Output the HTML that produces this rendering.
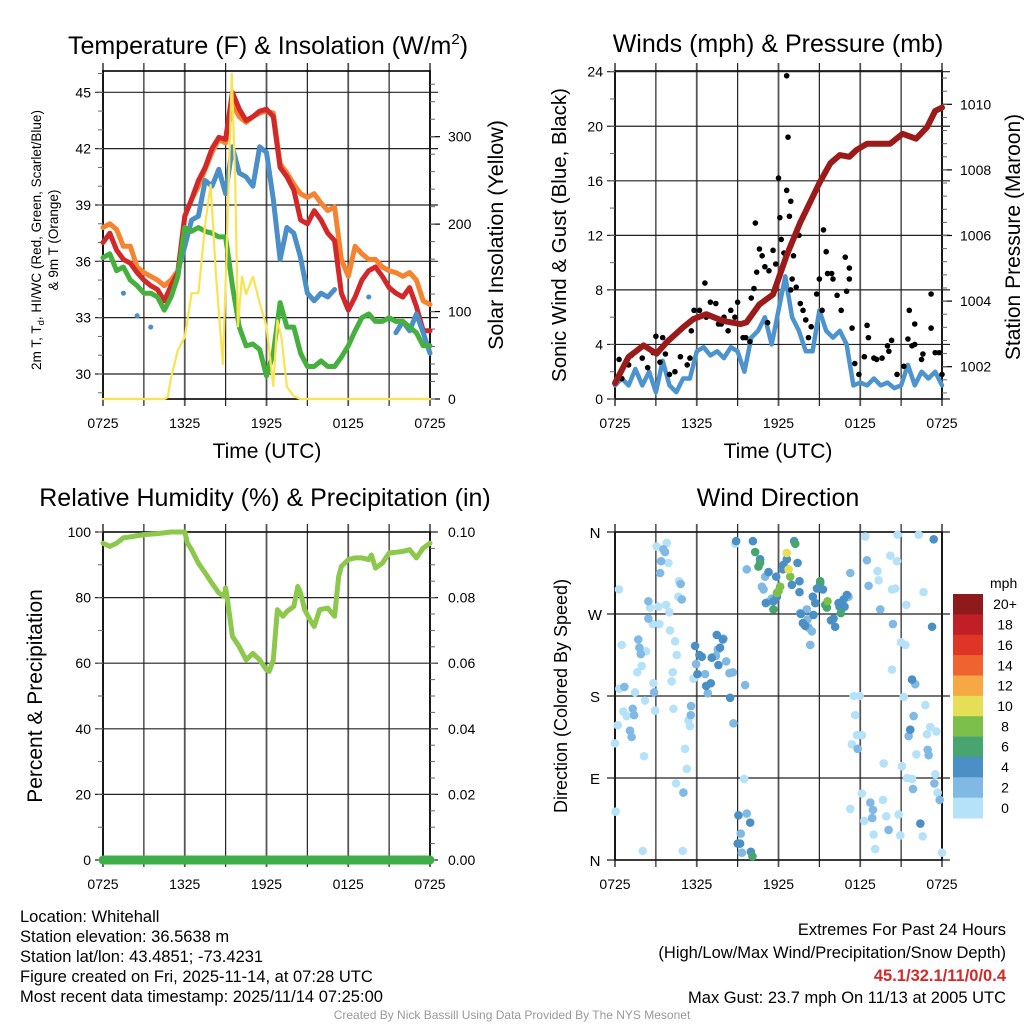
<!DOCTYPE html>
<html><head><meta charset="utf-8"><style>
html,body{margin:0;padding:0;background:#fff;}
svg{display:block;font-family:"Liberation Sans",sans-serif;}
</style></head><body>
<svg id="chart" xmlns="http://www.w3.org/2000/svg" width="1024" height="1024" viewBox="0 0 1024 1024">
<rect x="0" y="0" width="1024" height="1024" fill="#fff"/>
<text x="268" y="54" font-size="25" text-anchor="middle">Temperature (F) &amp; Insolation (W/m<tspan font-size="15" dy="-10">2</tspan><tspan dy="10">)</tspan></text>
<text x="778" y="52" font-size="25" text-anchor="middle">Winds (mph) &amp; Pressure (mb)</text>
<text x="265" y="506" font-size="25" text-anchor="middle">Relative Humidity (%) &amp; Precipitation (in)</text>
<text x="778" y="506" font-size="25" text-anchor="middle">Wind Direction</text>

<text transform="translate(41,240) rotate(-90)" font-size="13.5" text-anchor="middle">2m T, T<tspan font-size="9.5" dy="3">d</tspan><tspan dy="-3">, HI/WC (Red, Green, Scarlet/Blue)</tspan></text>
<text transform="translate(58,240) rotate(-90)" font-size="13.5" text-anchor="middle">&amp; 9m T (Orange)</text>
<text transform="translate(503,235) rotate(-90)" font-size="21.5" text-anchor="middle">Solar Insolation (Yellow)</text>
<text x="267" y="458" font-size="21" text-anchor="middle">Time (UTC)</text>
<text transform="translate(566,235) rotate(-90)" font-size="20.5" text-anchor="middle">Sonic Wind &amp; Gust (Blue, Black)</text>
<text transform="translate(1020,237) rotate(-90)" font-size="21" text-anchor="middle">Station Pressure (Maroon)</text>
<text x="778" y="458" font-size="21" text-anchor="middle">Time (UTC)</text>
<text transform="translate(42,696) rotate(-90)" font-size="21" text-anchor="middle">Percent &amp; Precipitation</text>
<text transform="translate(567,696) rotate(-90)" font-size="18" text-anchor="middle">Direction (Colored By Speed)</text>

<g font-size="16.5">
<text x="20" y="922">Location: Whitehall</text>
<text x="20" y="942">Station elevation: 36.5638 m</text>
<text x="20" y="962">Station lat/lon: 43.4851; -73.4231</text>
<text x="20" y="982">Figure created on Fri, 2025-11-14, at 07:28 UTC</text>
<text x="20" y="1002">Most recent data timestamp: 2025/11/14 07:25:00</text>
</g>
<g font-size="16.5" text-anchor="end">
<text x="1006" y="935">Extremes For Past 24 Hours</text>
<text x="1006" y="958">(High/Low/Max Wind/Precipitation/Snow Depth)</text>
<text x="1006" y="981" font-weight="bold" fill="#d42a2a">45.1/32.1/11/0/0.4</text>
<text x="1006" y="1003">Max Gust: 23.7 mph On 11/13 at 2005 UTC</text>
</g>
<text x="512" y="1019" font-size="12" fill="#999" text-anchor="middle">Created By Nick Bassill Using Data Provided By The NYS Mesonet</text>
<g id="layers"></g>
</svg>
<script>
// ---------- Data ----------
const tempTime = [0,0.5,1,1.5,2,2.5,3,3.5,4,4.5,5,5.5,6,6.5,7,7.5,8,8.5,9,9.5,10,10.5,11,11.5,12,12.5,13,13.5,14,14.5,15,15.5,16,16.5,17,17.5,18,18.5,19,19.5,20,20.5,21,21.5,22,22.5,23,23.5,24];
const tempRed = [37.0,37.5,36.6,36.1,35.9,35.4,35.0,34.7,34.5,33.9,34.7,35.4,38.4,39.3,40.3,41.0,42.0,42.6,42.5,45.0,44.1,43.5,43.7,44.0,44.1,43.7,41.0,40.5,39.8,38.2,38.0,38.7,38.2,37.5,37.1,34.3,33.4,34.1,35.0,35.5,35.7,35.2,34.6,34.3,34.1,34.6,33.6,32.3,32.3];
const tempOrange = [37.8,38.0,37.7,36.8,36.8,35.7,35.4,35.2,35.0,34.7,35.0,35.5,38.4,39.3,40.0,40.9,41.8,42.5,42.3,44.4,43.7,43.4,43.7,43.9,44.0,43.9,41.2,40.7,40.1,39.6,39.4,39.6,39.1,38.7,38.9,36.1,35.2,36.8,36.4,36.1,36.1,35.7,35.5,35.4,35.2,35.4,35.0,33.9,33.7];
const tempGreen = [36.2,36.4,35.5,35.7,35.0,34.7,34.3,34.3,34.1,33.4,34.1,35.2,37.8,37.6,37.8,37.6,37.5,37.3,37.3,34.7,32.5,31.5,31.6,31.3,29.9,31.1,33.8,32.5,32.5,31.1,30.4,30.4,30.7,30.4,30.4,30.9,31.5,32.3,33.0,33.2,32.8,32.8,33.0,32.8,32.8,32.5,32.2,31.5,31.5];
const tempBlue = [null,null,null,34.3,null,33.1,null,32.5,null,null,null,35.5,36.8,38.2,38.4,40.3,40.0,40.9,39.6,42.1,40.7,40.5,40.0,42.1,41.8,39.3,36.1,37.8,37.5,36.2,34.3,33.9,34.3,34.1,34.5,null,null,null,null,34.1,null,null,null,32.2,32.8,32.3,33.2,32.2,31.1];
const solarTime = [0,4.5,4.75,5,5.5,6,6.5,7,7.5,7.9,8.3,8.8,9.1,9.45,9.7,9.9,10.2,10.5,11,11.5,12,12.5,12.8,13.1,13.5,14,14.5,24];
const solarValues = [0,0,2,25,56,71,121,121,200,245,140,40,180,372,250,83,140,120,140,110,83,15,90,70,14,3,0,0];

const windTime = [0,0.5,1,1.5,2,2.5,3,3.5,4,4.5,5,5.5,6,6.5,7,7.5,8,8.5,9,9.5,10,10.5,11,11.5,12,12.5,13,13.5,14,14.5,15,15.5,16,16.5,17,17.5,18,18.5,19,19.5,20,20.5,21,21.5,22,22.5,23,23.5,24];
const windSpeed = [1.0,1.5,1.0,2.2,1.0,2.0,0.5,2.8,1.0,0.5,1.5,1.5,3.5,3.8,3.2,3.5,3.0,3.8,3.5,2.0,4.5,5.0,6.0,4.0,6.5,9.0,6.0,5.0,3.5,3.5,6.5,5.0,4.5,5.0,4.0,1.0,1.2,1.0,1.5,1.0,1.2,0.8,1.0,2.5,1.0,2.0,1.5,2.0,1.0];
const gustTime = [0.3,0.5,1.0,1.2,2.0,2.4,2.8,3.0,3.3,3.5,3.7,4.0,4.4,4.8,5.3,5.5,5.6,5.8,6.2,6.6,6.7,7.0,7.2,7.4,7.6,7.8,8.0,8.3,8.5,8.8,9.0,9.4,9.6,9.9,10.0,10.2,10.3,10.4,10.6,10.8,11.0,11.2,11.3,11.6,11.8,12.0,12.1,12.2,12.4,12.6,12.6,12.7,12.8,12.9,12.9,13.0,13.1,13.3,13.5,13.6,13.8,14.0,14.2,14.4,14.8,15.0,15.2,15.3,15.5,15.6,15.9,16.0,16.3,16.6,16.9,17.0,17.2,17.2,17.4,17.6,17.9,18.3,18.5,18.6,19.0,19.2,19.6,20.0,20.1,20.3,20.7,21.2,21.5,21.6,21.8,22.0,22.0,22.5,22.6,23.2,23.2,23.5,23.8,24.0];
const gustSpeed = [2.9,1.5,2.5,3.2,3.0,2.3,3.4,4.6,2.7,4.5,3.3,1.8,2.0,3.1,2.5,3.0,5.0,6.5,6.5,8.5,6.0,7.1,6.0,7.0,5.5,5.5,6.0,5.0,6.5,6.0,7.1,4.5,4.5,4.2,7.4,8.1,12.9,9.3,11.0,10.5,9.7,5.6,9.4,10.9,9.9,16.2,13.3,11.7,10.7,23.7,15.3,19.2,13.4,14.5,8.0,8.8,10.5,8.2,12.0,7.0,6.5,5.8,4.5,5.3,7.7,8.8,6.5,12.4,10.8,9.2,9.2,8.8,7.6,6.5,10.4,7.9,9.6,8.8,5.2,2.6,1.8,3.1,5.4,4.5,3.0,2.9,3.0,3.9,3.5,4.3,1.8,2.4,4.4,6.5,3.9,5.5,4.0,2.9,3.3,7.7,5.2,3.4,3.4,1.8];
const presTime = [0,1,2.1,3.05,3.8,5,5.75,6.7,7.9,9.2,9.65,10.6,11.6,12.6,13.6,15.0,15.8,16.5,17.2,17.7,18.5,20.2,21.1,22.1,22.9,23.5,24];
const presValues = [1001.5,1002.3,1002.65,1002.4,1002.75,1003.2,1003.45,1003.6,1003.4,1003.3,1003.35,1003.9,1004.2,1005.4,1006.4,1007.6,1008.2,1008.45,1008.4,1008.6,1008.8,1008.8,1009.1,1008.95,1009.3,1009.8,1009.9];

const rhTime = [0,0.5,1,1.5,2,3,4,5,6,6.2,6.5,7,7.5,8,8.5,8.9,9.0,9.1,9.5,10,10.5,11,11.5,12,12.2,12.5,12.8,13.2,13.5,14,14.3,14.5,14.8,15.2,15.5,15.9,16.5,17,17.3,17.5,18,18.5,19,19.5,19.7,20,20.5,21,21.5,22,22.5,23,23.5,24];
const rhValues = [96.6,95.6,96.6,98.2,98.5,99.2,99.5,100,100,96.6,94.6,90.5,87.5,84.4,81.4,80.4,83,80.4,68.2,65,61,63,61,58,57.5,61,76.3,74.3,75.8,77.3,83.4,81.4,76.3,73.2,71.2,76.3,76.8,74.3,86.5,89.5,91.6,92.1,92.1,91.6,93,89,90.5,93.6,93.8,94.1,94.6,92.1,95.1,96.6];
const precipTime = [0,24];
const precipValues = [0,0];

const wdTime = [0.29,3.06,3.8,3.92,2.57,3.18,3.75,3.99,2.77,3.26,4.04,4.41,4.53,4.24,4.16,4.7,4.65,0.49,2.28,1.96,1.64,2.82,1.47,0.32,0.61,0.86,0.2,0.0,2.2,2.13,2.94,4.29,5.14,5.27,4.48,5.76,5.39,5.51,2.03,4.97,0.05,8.82,9.48,18.37,20.74,19.27,19.35,20.21,20.7,20.33,20.57,21.38,22.65,20.99,21.31,20.33,17.51,17.95,17.63,17.76,18.12,17.39,19.72,21.06,21.43,21.8,22.12,22.78,23.14,22.9,23.59,23.51,23.68,21.19,18.12,17.27,18.3,18.98,19.67,19.91,20.82,20.94,22.58,19.1,24.0,22.29,
3.38,3.31,3.55,3.67,2.45,2.45,4.82,4.9,1.71,1.79,1.89,0.69,1.1,1.22,1.3,1.4,2.87,5.58,5.56,5.02,8.69,8.65,8.4,8.16,7.96,7.54,7.4,9.55,6.81,5.95,6.61,10.78,11.02,10.9,11.34,11.51,9.67,10.65,14.33,14.45,14.21,17.27,18.49,18.61,19.47,20.4,22.04,21.92,21.55,22.95,23.02,23.44,23.83,21.87,18.74,18.93,18.88,20.08,17.81,9.31,9.23,9.67,13.59,14.08,14.13,17.14,
8.89,10.12,13.15,10.65,11.27,11.83,12.37,12.61,13.4,12.98,13.54,13.54,11.88,11.63,11.07,12.32,14.52,14.7,14.82,15.06,15.26,14.57,13.64,13.79,13.96,16.04,16.16,15.85,16.48,16.85,17.02,16.78,16.41,7.47,7.91,7.71,7.1,6.37,6.2,6.05,6.69,7.03,7.59,8.45,5.88,21.67,23.27,23.39,9.06,9.92,9.01,9.18,9.97,22.41,21.8,
10.29,10.53,10.65,13.23,15.06,15.43,15.55,16.58,11.63,10.09,
12.12,12.0,12.86,15.6,11.88,
12.61,12.74];
const wdDir = [297,344,348,326,277,278,280,272,259,259,252,240,225,206,196,306,289,236,229,213,206,194,184,188,163,158,148,128,175,114,164,166,122,100,84,199,153,147,10,10,53,347,89,355,357,317,307,334,328,297,298,280,294,239,236,209,180,180,159,137,137,127,106,103,90,89,116,170,146,138,141,94,74,179,73,56,43,28,66,48,50,27,26,12,8,357,
328,315,341,338,284,265,303,286,242,233,226,190,142,135,166,159,184,169,159,74,150,206,205,218,243,231,224,192,183,215,204,300,311,297,284,287,319,330,236,251,255,315,329,301,275,259,193,158,136,121,115,84,66,78,63,55,46,33,122,8,29,51,271,275,264,289,
350,350,350,330,316,311,324,330,326,302,306,294,289,284,282,319,289,282,298,304,297,269,270,260,257,265,256,263,278,278,291,286,282,247,242,233,222,223,225,204,191,194,214,178,235,143,256,352,49,41,18,18,9,40,198,
338,322,326,347,306,280,277,271,275,4,
300,295,311,284,293,
337,319];
const wdSpeed = [0,0,0,0,0,0,0,0,0,0,0,0,0,0,0,0,0,0,0,0,0,0,0,0,0,0,0,0,0,0,0,0,0,0,0,0,0,0,0,0,0,0,0,0,0,0,0,0,0,0,0,0,0,0,0,0,0,0,0,0,0,0,0,0,0,0,0,0,0,0,0,0,0,0,0,0,0,0,0,0,0,0,0,0,0,0,
2,2,2,2,2,2,2,2,2,2,2,2,2,2,2,2,2,2,2,2,2,2,2,2,2,2,2,2,2,2,2,2,2,2,2,2,2,2,2,2,2,2,2,2,2,2,2,2,2,2,2,2,2,2,2,2,2,2,2,2,2,2,2,2,2,2,
4,4,4,4,4,4,4,4,4,4,4,4,4,4,4,4,4,4,4,4,4,4,4,4,4,4,4,4,4,4,4,4,4,4,4,4,4,4,4,4,4,4,4,4,4,4,4,4,4,4,4,4,4,4,4,
6,6,6,6,6,6,6,6,6,6,
8,8,8,8,8,
10,10];
const timeTickLabels = ["0725","1325","1925","0125","0725"];
const tempTicks = [30,33,36,39,42,45];
const solarTicks = [0,100,200,300];
const windTicks = [0,4,8,12,16,20,24];
const presTicks = [1002,1004,1006,1008,1010];
const rhTicks = [0,20,40,60,80,100];
const precipTicks = ["0.00","0.02","0.04","0.06","0.08","0.10"];
const dirTickLabels = ["N","E","S","W","N"];
const speedBins = ["0","2","4","6","8","10","12","14","16","18","20+"];
const speedColors = ["#b5e2f8","#7fb9e4","#4a8fc6","#49a56f","#7cc04b","#e6df55","#f5a844","#ee6330","#de3527","#c01f28","#8f1a1c"];

// ---------- Helpers ----------
const NS = "http://www.w3.org/2000/svg";
const root = document.getElementById("layers");
function mk(tag, attrs, parent){const e=document.createElementNS(NS,tag);for(const k in attrs)e.setAttribute(k,attrs[k]);(parent||root).appendChild(e);return e;}
function lin(d0,d1,r0,r1){return v=>r0+(v-d0)*(r1-r0)/(d1-d0);}

function frame(P, name){
  const g = mk("g",{});
  
  
  for(let i=0;i<=8;i++){
    const x = P.x0 + i*(P.x1-P.x0)/8;
    const l = mk("line",{x1:x,y1:P.y0-8,x2:x,y2:P.y1+7,stroke:i%2?"#222":"#555","stroke-width":i%2?1.2:1.8},g);
    
    
  }
  mk("rect",{x:P.x0,y:P.y0,width:P.x1-P.x0,height:P.y1-P.y0,fill:"none",stroke:"#000","stroke-width":1.6},g);
  timeTickLabels.forEach((t,i)=>{
    const tx = mk("text",{x:P.x0+i*(P.x1-P.x0)/4,y:P.y1+29,"font-size":14,"text-anchor":"middle"},g);
    tx.textContent=t;
    
    
  });
  return g;
}
function hgrid(g,P,ys,labels,side,minor){
  ys.forEach((y,i)=>{
    const l=mk("line",{x1:P.x0-8,y1:y,x2:P.x1+8,y2:y,stroke:"#222","stroke-width":1.2},g);
    
    
    if(labels){
      const tx=mk("text",{x:side==="left"?P.x0-12:P.x1+14,y:y+5,"font-size":14,"text-anchor":side==="left"?"end":"start"},g);
      tx.textContent=labels[i];
      
      
    }
  });
  (minor||[]).forEach(y=>{
    if(y<P.y0||y>P.y1) return;
    mk("line",{x1:side==="left"?P.x0-5:P.x1,y1:y,x2:side==="left"?P.x0:P.x1+5,y2:y,stroke:"#666","stroke-width":1},g);
  });
}
function path(xs,ys,sx,sy,attrs,name){
  let d="",pen=false;
  for(let i=0;i<xs.length;i++){
    if(ys[i]===null){pen=false;continue;}
    d+=(pen?"L":"M")+sx(xs[i]).toFixed(1)+","+sy(ys[i]).toFixed(1);
    if(!pen && (i+1>=xs.length||ys[i+1]===null)) d+="l0.1,0";
    pen=true;
  }
  const p=mk("path",Object.assign({d:d,fill:"none","stroke-linejoin":"round","stroke-linecap":"round"},attrs));
  
  
  return p;
}

// ---------- Panel 1: temperature ----------
const P1={x0:103,x1:430,y0:71,y1:399};
const g1=frame(P1,"temperature");
const t1x=lin(0,24,P1.x0,P1.x1), t1y=lin(30,45,374,92.3), s1y=lin(0,300,399,136.7);
const minor1=[];for(let v=29;v<=46;v++)minor1.push(t1y(v));
hgrid(g1,P1,tempTicks.map(t1y),tempTicks,"left",minor1);
const minorS=[];for(let v=0;v<=375;v+=20)minorS.push(s1y(v));
solarTicks.forEach(v=>{
  const l=mk("line",{x1:P1.x1,y1:s1y(v),x2:P1.x1+10,y2:s1y(v),stroke:"#000","stroke-width":1.2},g1);
  
  
  const tx=mk("text",{x:P1.x1+18,y:s1y(v)+5,"font-size":14},g1);
  tx.textContent=v;
  
  
});
minorS.forEach(y=>mk("line",{x1:P1.x1,y1:y,x2:P1.x1+5,y2:y,stroke:"#666","stroke-width":1},g1));
path(tempTime,tempOrange,t1x,t1y,{stroke:"#f5832f","stroke-width":5},"series-9m-temp-orange");
path(tempTime,tempRed,t1x,t1y,{stroke:"#d3282a","stroke-width":5},"series-2m-temp-red");
path(tempTime,tempBlue,t1x,t1y,{stroke:"#4a8fc8","stroke-width":5},"series-windchill-blue");
path(tempTime,tempGreen,t1x,t1y,{stroke:"#46b03e","stroke-width":5},"series-dewpoint-green");
path(solarTime,solarValues,t1x,v=>Math.max(P1.y0,s1y(v)),{stroke:"#fbe350","stroke-width":2.2},"series-insolation-yellow");

// ---------- Panel 2: winds ----------
const P2={x0:615,x1:942,y0:71,y1:399};
const g2=frame(P2,"winds");
const w2x=lin(0,24,P2.x0,P2.x1), w2y=lin(0,24,399,71.7), p2y=lin(1002,1010,366.7,104.3);
const minor2=[];for(let v=0;v<=24;v+=2)minor2.push(w2y(v));
hgrid(g2,P2,windTicks.map(w2y),windTicks,"left",minor2);
presTicks.forEach(v=>{
  const tx=mk("text",{x:P2.x1+18,y:p2y(v)+5,"font-size":14},g2);
  tx.textContent=v;
  
  
  mk("line",{x1:P2.x1,y1:p2y(v),x2:P2.x1+10,y2:p2y(v),stroke:"#000","stroke-width":1.2},g2);
});
for(let v=1001.2;v<=1010.9;v+=0.4)mk("line",{x1:P2.x1,y1:p2y(v),x2:P2.x1+5,y2:p2y(v),stroke:"#666","stroke-width":1},g2);
path(windTime,windSpeed,w2x,w2y,{stroke:"#4d94cf","stroke-width":4.5},"series-sonic-wind-blue");
const gg=mk("g",{});


gustTime.forEach((t,i)=>{
  const c=mk("circle",{cx:w2x(t),cy:w2y(gustSpeed[i]),r:2.8,fill:"#000"},gg);
  
  
});
path(presTime,presValues,w2x,p2y,{stroke:"#9b1b1b","stroke-width":6},"series-pressure-maroon");

// ---------- Panel 3: humidity ----------
const P3={x0:103,x1:430,y0:532,y1:860};
const g3=frame(P3,"humidity");
const h3x=lin(0,24,P3.x0,P3.x1), h3y=lin(0,100,860,532), pr3y=lin(0,0.1,860,532);
const minor3=[];for(let v=0;v<=100;v+=10)minor3.push(h3y(v));
hgrid(g3,P3,rhTicks.map(h3y),rhTicks,"left",minor3);
precipTicks.forEach(v=>{
  const tx=mk("text",{x:P3.x1+18,y:pr3y(+v)+5,"font-size":14},g3);
  tx.textContent=v;
  
  
});
for(let v=0;v<=0.1;v+=0.005)mk("line",{x1:P3.x1,y1:pr3y(v),x2:P3.x1+5,y2:pr3y(v),stroke:"#666","stroke-width":1},g3);
path(rhTime,rhValues,h3x,h3y,{stroke:"#8cc84b","stroke-width":5},"series-relative-humidity");
path(precipTime,precipValues,h3x,pr3y,{stroke:"#3fae49","stroke-width":9},"series-precipitation");

// ---------- Panel 4: wind direction ----------
const P4={x0:615,x1:942,y0:532,y1:860};
const g4=frame(P4,"wind-direction");
const d4x=lin(0,24,P4.x0,P4.x1), d4y=lin(0,360,860,532);
[0,90,180,270,360].forEach((v,i)=>{
  const y=d4y(v);
  mk("line",{x1:P4.x0-8,y1:y,x2:P4.x1+8,y2:y,stroke:"#222","stroke-width":1.2},g4);
  const tx=mk("text",{x:P4.x0-20,y:y+6,"font-size":15,"text-anchor":"middle"},g4);
  tx.textContent=dirTickLabels[i];
  
  
});
const gd=mk("g",{});


wdTime.forEach((t,i)=>{
  const bin=Math.min(10,Math.floor(wdSpeed[i]/2));
  const c=mk("circle",{cx:d4x(Math.min(24,t)),cy:d4y(wdDir[i]),r:4.3,fill:speedColors[bin]},gd);
  
  
});
// colorbar
const gc=mk("g",{});


const cbTop=594, cbH=224/speedBins.length;
const unit=mk("text",{x:990,y:588,"font-size":14},gc);
unit.textContent="mph";


speedBins.forEach((lab,i)=>{
  const k=speedBins.length-1-i;
  const y=cbTop+i*cbH;
  const r=mk("rect",{x:953,y:y,width:30,height:cbH+0.5,fill:speedColors[k]},gc);
  
  
  const tx=mk("text",{x:1005,y:y+cbH/2+5,"font-size":14,"text-anchor":"middle"},gc);
  tx.textContent=speedBins[k];
  
  
});
</script>
</body></html>
